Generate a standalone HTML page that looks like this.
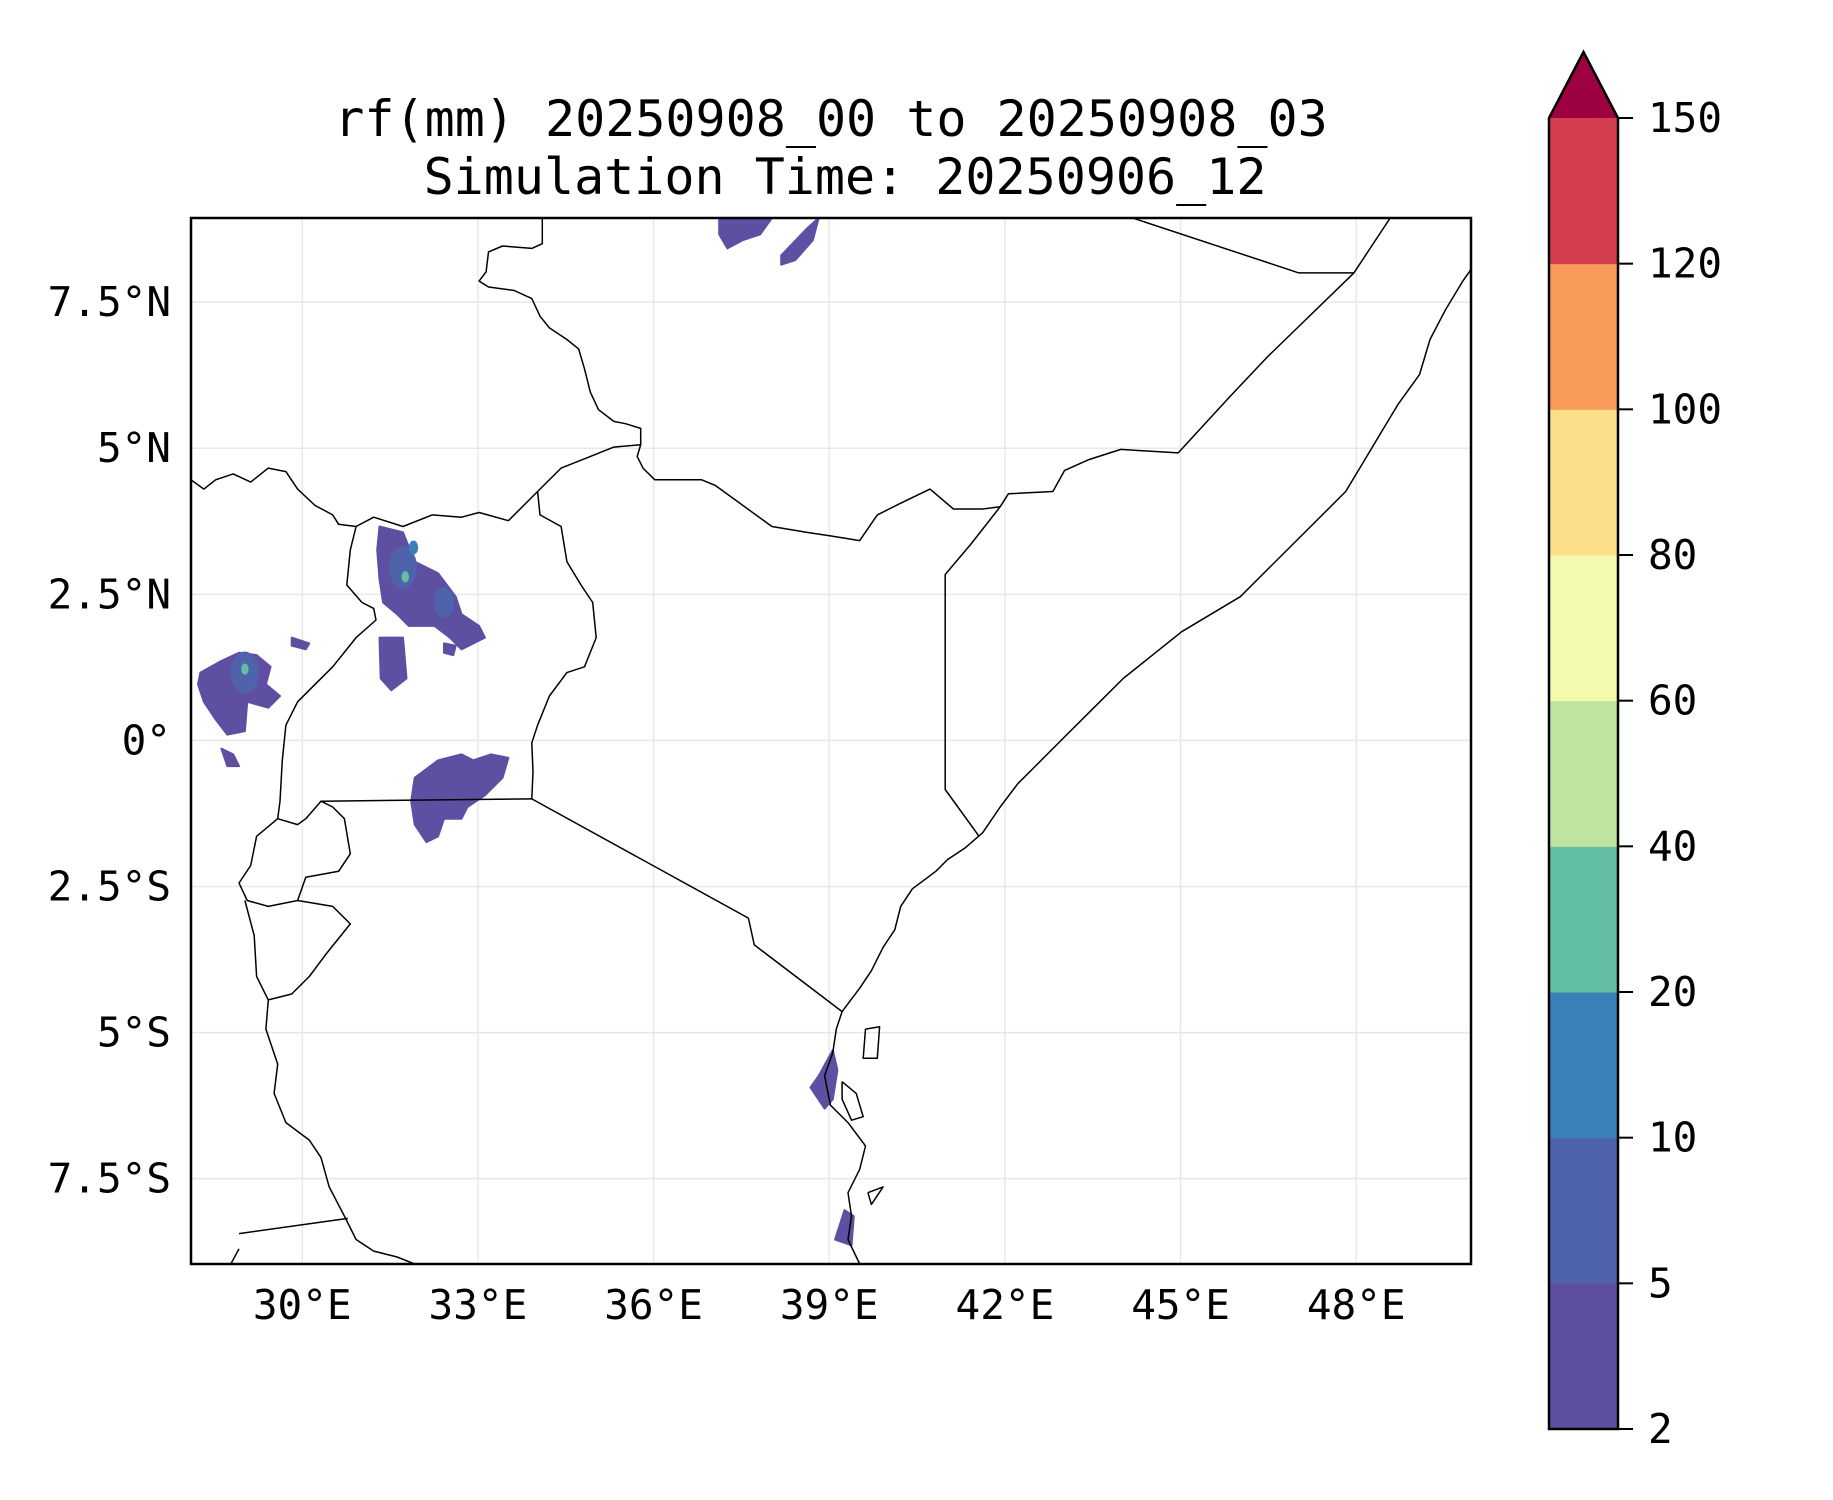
<!DOCTYPE html>
<html><head><meta charset="utf-8"><style>
html,body{margin:0;padding:0;background:#fff}
svg{display:block}
text{font-family:"DejaVu Sans Mono","Liberation Mono",monospace;fill:#000}
</style></head><body>
<svg id="fig" width="1833" height="1500" viewBox="0 0 1833 1500" xmlns="http://www.w3.org/2000/svg">
<text x="831" y="136" font-size="50" text-anchor="middle">rf(mm) 20250908_00 to 20250908_03</text>
<text x="845" y="194" font-size="50" text-anchor="middle">Simulation Time: 20250906_12</text>
<defs><clipPath id="axclip"><rect x="191" y="218" width="1280" height="1046"/></clipPath></defs>
<g id="grid"></g>
<g id="rain" clip-path="url(#axclip)"></g>
<g id="borders" clip-path="url(#axclip)"></g>
<rect x="191" y="218" width="1280" height="1046" fill="none" stroke="#000" stroke-width="2.5"/>
<g id="xticks"></g>
<g id="yticks"></g>
<g id="cbar"></g>
</svg>
<script>
const lonTicks=[30,33,36,39,42,45,48];
const latTicks=[7.5,5,2.5,0,-2.5,-5,-7.5];
const latLabels=["7.5°N","5°N","2.5°N","0°","2.5°S","5°S","7.5°S"];
const levels=[2,5,10,20,40,60,80,100,120,150];
const levelColors=["#5e4fa2","#4f62ac","#3a80b9","#63bea6","#bee4a0","#f3faad","#fddf8b","#f99b58","#d53e4f"];
const overColor="#9e0142";
const borderLines=[
[[34.10,8.94],[34.10,8.50],[33.92,8.42],[33.42,8.46],[33.18,8.36],[33.14,8.02],[33.02,7.86],[33.18,7.76],[33.62,7.70],[33.92,7.56],[34.06,7.26],[34.22,7.06],[34.52,6.86],[34.72,6.70],[34.82,6.36],[34.92,5.96],[35.06,5.66],[35.32,5.46],[35.52,5.42],[35.78,5.34],[35.78,5.06],[35.72,4.86],[35.82,4.66],[36.02,4.46],[36.82,4.46],[37.06,4.36],[38.02,3.66],[38.62,3.56],[39.02,3.50],[39.52,3.42],[39.82,3.86],[40.22,4.06],[40.72,4.30],[41.12,3.96],[41.62,3.96],[41.92,4.00]],
[[41.92,4.00],[42.06,4.22],[42.82,4.26],[43.02,4.62],[43.42,4.80],[43.98,4.98],[44.96,4.92],[45.82,5.86],[46.48,6.56],[47.96,8.00],[48.58,8.94]],
[[44.18,8.94],[47.02,8.00],[47.96,8.00]],
[[41.92,4.00],[41.42,3.36],[40.98,2.84],[40.98,-0.84],[41.56,-1.64]],
[[49.96,8.06],[49.82,7.86],[49.52,7.36],[49.26,6.86],[49.08,6.26],[48.72,5.76],[48.42,5.26],[48.12,4.76],[47.82,4.26],[47.42,3.86],[46.92,3.36],[46.52,2.96],[46.02,2.46],[45.02,1.86],[44.52,1.46],[44.02,1.06],[43.52,0.56],[43.02,0.06],[42.52,-0.44],[42.22,-0.74],[41.92,-1.14],[41.62,-1.58],[41.32,-1.84],[41.02,-2.04],[40.82,-2.24],[40.42,-2.54],[40.22,-2.84],[40.12,-3.24],[39.92,-3.54],[39.72,-3.94],[39.52,-4.24],[39.22,-4.64],[39.12,-4.94],[39.06,-5.34],[38.92,-5.74],[39.02,-6.24],[39.32,-6.54],[39.62,-6.94],[39.52,-7.34],[39.32,-7.74],[39.38,-8.14],[39.32,-8.54],[39.52,-8.96]],
[[28.10,4.46],[28.32,4.30],[28.52,4.46],[28.82,4.56],[29.12,4.42],[29.42,4.66],[29.72,4.60],[29.92,4.30],[30.22,4.02],[30.52,3.86],[30.62,3.70],[30.92,3.66],[31.22,3.82],[31.72,3.66],[32.22,3.86],[32.72,3.82],[33.02,3.90],[33.52,3.76],[34.02,4.26],[34.42,4.66],[34.82,4.82],[35.32,5.02],[35.78,5.06]],
[[34.02,4.26],[34.06,3.86],[34.42,3.66],[34.52,3.06],[34.76,2.66],[34.96,2.36],[35.02,1.76],[34.82,1.26],[34.52,1.16],[34.22,0.76],[34.02,0.26],[33.92,-0.04],[33.94,-0.54],[33.92,-1.00]],
[[33.92,-1.00],[37.62,-3.04],[37.72,-3.50],[39.22,-4.64]],
[[30.32,-1.04],[33.92,-1.00]],
[[30.92,3.66],[30.82,3.26],[30.76,2.66],[31.02,2.36],[31.22,2.26],[31.26,2.06],[30.92,1.76],[30.52,1.26],[30.22,0.96],[29.92,0.66],[29.72,0.26],[29.66,-0.34],[29.62,-1.04],[29.58,-1.34]],
[[29.58,-1.34],[29.22,-1.64],[29.12,-2.14],[28.92,-2.44],[29.06,-2.74],[29.42,-2.84],[29.92,-2.74],[30.06,-2.34],[30.62,-2.24],[30.82,-1.94],[30.72,-1.34],[30.52,-1.14],[30.32,-1.04],[30.06,-1.34],[29.92,-1.44],[29.58,-1.34]],
[[29.92,-2.74],[30.52,-2.84],[30.82,-3.14],[30.42,-3.64],[30.12,-4.04],[29.82,-4.34],[29.42,-4.44],[29.22,-4.04],[29.18,-3.34],[29.02,-2.74]],
[[29.42,-4.44],[29.38,-4.94],[29.58,-5.54],[29.52,-6.04],[29.72,-6.54],[30.12,-6.84],[30.32,-7.14],[30.46,-7.64],[30.72,-8.14],[30.92,-8.54],[31.22,-8.74],[31.62,-8.84],[31.92,-8.96]],
[[28.92,-8.44],[30.78,-8.18]],
[[28.92,-8.70],[28.78,-8.96]],
[[39.62,-4.94],[39.86,-4.90],[39.82,-5.44],[39.58,-5.44],[39.62,-4.94]],
[[39.22,-5.84],[39.46,-6.04],[39.58,-6.44],[39.38,-6.50],[39.22,-6.14],[39.22,-5.84]],
[[39.66,-7.74],[39.92,-7.64],[39.72,-7.94],[39.66,-7.74]]
];
const rainBlobs=[
[[31.32,3.66],[31.72,3.56],[31.92,3.06],[32.32,2.86],[32.62,2.46],[32.72,2.16],[33.02,1.96],[33.12,1.76],[32.72,1.56],[32.52,1.76],[32.26,1.96],[31.82,1.96],[31.62,2.16],[31.38,2.36],[31.32,2.76],[31.28,3.26]],
[[31.32,1.76],[31.72,1.76],[31.78,1.06],[31.52,0.86],[31.34,1.06]],
[[32.42,1.66],[32.62,1.62],[32.58,1.46],[32.42,1.50]],
[[28.26,1.16],[28.62,1.36],[28.92,1.50],[29.22,1.46],[29.46,1.26],[29.38,0.96],[29.62,0.76],[29.42,0.56],[29.06,0.66],[29.02,0.16],[28.72,0.10],[28.52,0.36],[28.32,0.66],[28.22,0.96]],
[[28.62,-0.14],[28.82,-0.24],[28.92,-0.44],[28.72,-0.44]],
[[29.82,1.76],[30.12,1.66],[30.06,1.56],[29.82,1.62]],
[[31.92,-0.64],[32.32,-0.34],[32.72,-0.24],[32.92,-0.34],[33.22,-0.24],[33.52,-0.30],[33.42,-0.64],[33.12,-0.94],[32.82,-1.14],[32.72,-1.34],[32.42,-1.34],[32.32,-1.64],[32.12,-1.74],[31.92,-1.44],[31.86,-1.04]],
[[37.12,8.94],[38.02,8.94],[37.82,8.66],[37.52,8.56],[37.26,8.42],[37.12,8.66]],
[[38.18,8.30],[38.62,8.76],[38.82,8.94],[38.72,8.56],[38.42,8.22],[38.18,8.14]],
[[38.82,-5.74],[39.06,-5.30],[39.14,-5.64],[39.06,-6.14],[38.92,-6.30],[38.68,-5.94]],
[[39.26,-8.04],[39.42,-8.14],[39.38,-8.64],[39.10,-8.54]]
];
const spotLon=[31.72,32.42,29.02,31.76,29.02,31.90];
const spotLat=[2.96,2.36,1.16,2.80,1.22,3.30];
const spotLevel=[1,1,1,3,3,2];
const spotRadius=[0.3,0.22,0.3,0.08,0.08,0.1];

const NS="http://www.w3.org/2000/svg";
const LON0=28.1,LON1=49.96,LAT0=-8.96,LAT1=8.94;
const AX={x:191,y:218,w:1280,h:1046};
function xs(lon){return AX.x+(lon-LON0)/(LON1-LON0)*AX.w;}
function ys(lat){return AX.y+(LAT1-lat)/(LAT1-LAT0)*AX.h;}
function mk(tag,attrs,parent){const e=document.createElementNS(NS,tag);for(const k in attrs)e.setAttribute(k,attrs[k]);parent.appendChild(e);return e;}
const grid=document.getElementById('grid');
lonTicks.forEach(l=>{const e=mk('line',{x1:xs(l),x2:xs(l),y1:AX.y,y2:AX.y+AX.h,stroke:'#e8e8e8','stroke-width':1.5},grid);

});
latTicks.forEach(l=>{const e=mk('line',{x1:AX.x,x2:AX.x+AX.w,y1:ys(l),y2:ys(l),stroke:'#e8e8e8','stroke-width':1.5},grid);

});
function pts(arr){return arr.map(p=>xs(p[0]).toFixed(1)+','+ys(p[1]).toFixed(1)).join(' ');}
const rain=document.getElementById('rain');
rainBlobs.forEach(b=>{const e=mk('polygon',{points:pts(b),fill:levelColors[0],stroke:levelColors[0],'stroke-width':2,'stroke-linejoin':'round'},rain);

});
spotLon.forEach((lo,i)=>{const r=spotRadius[i]*(AX.w/(LON1-LON0));const e=mk('ellipse',{cx:xs(lo),cy:ys(spotLat[i]),rx:r*0.8,ry:r*1.2,fill:levelColors[spotLevel[i]]},rain);

});
const bd=document.getElementById('borders');
borderLines.forEach(b=>{const e=mk('polyline',{points:pts(b),fill:'none',stroke:'#000','stroke-width':1.5,'stroke-linejoin':'round'},bd);

});
const xt=document.getElementById('xticks');
lonTicks.forEach(l=>{const t=mk('text',{x:xs(l),y:1319,'font-size':41,'text-anchor':'middle'},xt);t.textContent=l+'°E';

});
const yt=document.getElementById('yticks');
latTicks.forEach((l,i)=>{const t=mk('text',{x:171,y:ys(l)+14,'font-size':41,'text-anchor':'end'},yt);t.textContent=latLabels[i];

});
const cb=document.getElementById('cbar');
const CB={x:1549,w:69,top:118,bot:1429,tip:52};
function cy(i){return CB.bot-i*(CB.bot-CB.top)/(levels.length-1);}
levelColors.forEach((c,i)=>{const e=mk('rect',{x:CB.x,y:cy(i+1),width:CB.w,height:cy(i)-cy(i+1)+0.5,fill:c},cb);

});
const tri=mk('polygon',{points:`${CB.x},${CB.top} ${CB.x+CB.w/2},${CB.tip} ${CB.x+CB.w},${CB.top}`,fill:overColor},cb);


const out=mk('polygon',{points:`${CB.x},${CB.bot} ${CB.x},${CB.top} ${CB.x+CB.w/2},${CB.tip} ${CB.x+CB.w},${CB.top} ${CB.x+CB.w},${CB.bot}`,fill:'none',stroke:'#000','stroke-width':2.5},cb);


levels.forEach((v,i)=>{const y=cy(i);
const tk=mk('line',{x1:CB.x+CB.w,x2:CB.x+CB.w+15,y1:y,y2:y,stroke:'#000','stroke-width':2},cb);


const t=mk('text',{x:1648,y:y+14,'font-size':41},cb);t.textContent=v;

});
</script>
</body></html>
